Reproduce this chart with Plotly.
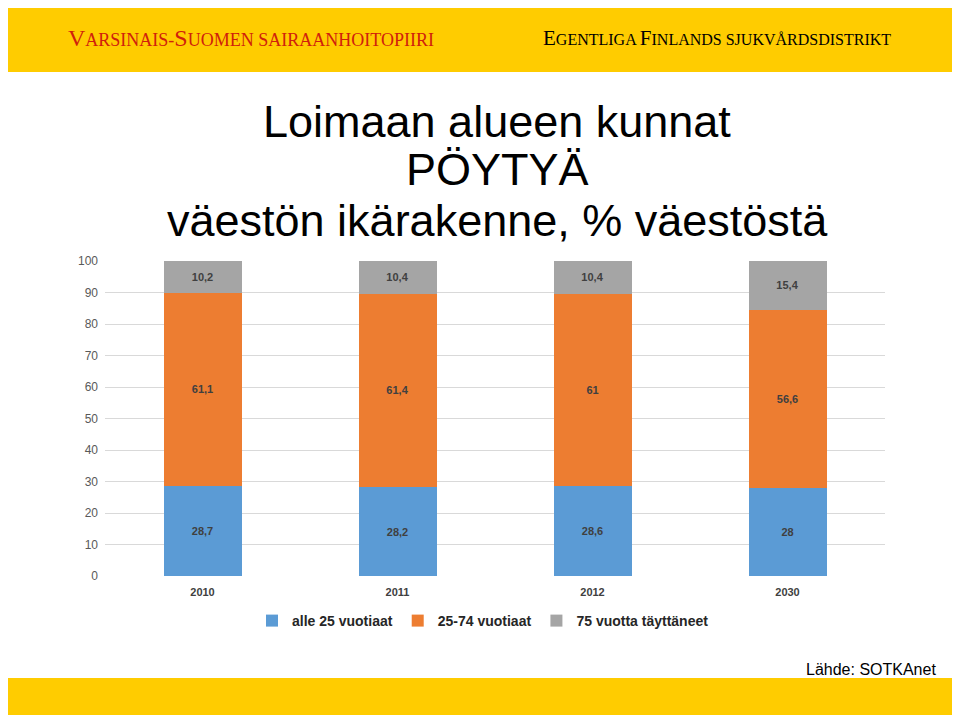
import plotly.graph_objects as go

years = ["2010", "2011", "2012", "2030"]
under25 = [28.7, 28.2, 28.6, 28.0]
age25_74 = [61.1, 61.4, 61.0, 56.6]
over75 = [10.2, 10.4, 10.4, 15.4]
series_names = ["alle 25 vuotiaat", "25-74 vuotiaat", "75 vuotta täyttäneet"]
colors = ["#5B9BD5", "#ED7D31", "#A5A5A5"]
title_lines = ["Loimaan alueen kunnat", "PÖYTYÄ", "väestön ikärakenne, % väestöstä"]

def fmt(v):
    s = ("%.1f" % v).rstrip("0").rstrip(".")
    return s.replace(".", ",")

fig = go.Figure()
for name, vals, col in zip(series_names, [under25, age25_74, over75], colors):
    fig.add_trace(go.Bar(
        x=years, y=vals, name=name, marker=dict(color=col, line=dict(width=0)),
        text=[fmt(v) for v in vals], textposition="inside", insidetextanchor="middle",
        textangle=0,
        textfont=dict(family="Arial, Liberation Sans", size=11, color="#404040", weight="bold"),
        hoverinfo="skip",
    ))

OFF = 8  # page body margin
W, H = 960, 716
# plot area in page coordinates
PL, PR, PT, PB = 105, 885, 261, 576
L, R, T, B = PL - OFF, PR - OFF, PT - OFF, PB - OFF

def px(x):
    return (x - PL) / (PR - PL)

def py(y):
    return (PB - y) / (PB - PT)

shapes = [
    dict(type="rect", xref="paper", yref="paper", x0=px(5), x1=px(955), y0=py(72), y1=py(0),
         fillcolor="#FFCC00", line=dict(width=0), layer="below"),
    dict(type="rect", xref="paper", yref="paper", x0=px(5), x1=px(953), y0=py(715), y1=py(678),
         fillcolor="#FFCC00", line=dict(width=0), layer="below"),
]

red = "#D0200C"
left_header = ('<span style="font-size:24px">V</span>ARSINAIS-<span style="font-size:24px">S</span>UOMEN SAIRAANHOITOPIIRI')
right_header = ('<span style="font-size:21px">E</span>GENTLIGA <span style="font-size:21px">F</span>INLANDS SJUKVÅRDSDISTRIKT')

annotations = [
    dict(text=left_header, xref="paper", yref="paper", x=px(66), y=py(38), xanchor="left", yanchor="middle",
         showarrow=False, font=dict(family="Liberation Serif, Times New Roman, serif", size=18, color=red)),
    dict(text=right_header, xref="paper", yref="paper", x=px(541), y=py(38), xanchor="left", yanchor="middle",
         showarrow=False, font=dict(family="Liberation Serif, Times New Roman, serif", size=16, color="#000000")),
    dict(text="Lähde: SOTKAnet", xref="paper", yref="paper", x=px(938), y=py(669), xanchor="right",
         yanchor="middle", showarrow=False,
         font=dict(family="Liberation Sans, Arial, sans-serif", size=16, color="#000000")),
]
for line, yc in zip(title_lines, [121, 170, 220]):
    annotations.append(dict(text=line, xref="paper", yref="paper", x=px(497), y=py(yc),
                            xanchor="center", yanchor="middle", showarrow=False,
                            font=dict(family="Liberation Sans, Arial, sans-serif", size=45, color="#000000")))

fig.update_layout(
    width=W, height=H, barmode="stack", bargap=0.6,
    margin=dict(l=L, r=W - R, t=T, b=H - B, pad=0),
    paper_bgcolor="white", plot_bgcolor="white",
    separators=",.",
    shapes=shapes, annotations=annotations,
    showlegend=True,
    legend=dict(orientation="h", x=px(483), xanchor="center", y=py(621), yanchor="middle",
                font=dict(family="Arial, Liberation Sans", size=14, color="#262626", weight="bold"),
                itemwidth=30, traceorder="normal", itemclick=False),
    xaxis=dict(showgrid=False, showline=False, ticks="", zeroline=False, ticklabelstandoff=8,
               tickfont=dict(family="Arial, Liberation Sans", size=11, color="#404040", weight="bold")),
    yaxis=dict(range=[0, 100], dtick=10, showgrid=True, gridcolor="#D9D9D9", gridwidth=1,
               zeroline=False, showline=False, ticks="", ticklabelstandoff=6,
               tickfont=dict(family="Arial, Liberation Sans", size=12, color="#595959")),
    hovermode=False,
)

fig.write_html("out.html")
